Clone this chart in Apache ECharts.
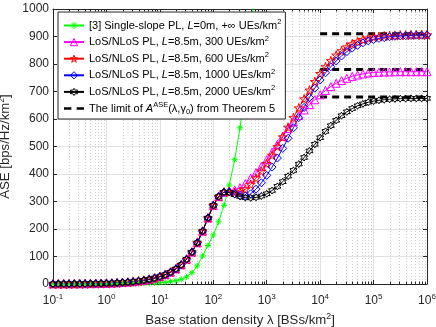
<!DOCTYPE html>
<html>
<head>
<meta charset="utf-8">
<script src="https://cdn.jsdelivr.net/npm/echarts@6.0.0/dist/echarts.min.js"></script>
<style>
html, body { margin: 0; padding: 0; background: #fff; }
#chart { width: 436px; height: 327px; }
</style>
</head>
<body>
<div id="chart"></div>
<script>
// BS density sampling grid, 10 points per decade from 1e-1 to 1e6
const lambdaExp = [];
for (let k = -10; k <= 60; k++) lambdaExp.push(k / 10);
const lambda = lambdaExp.map(e => Math.pow(10, e));

// ASE values [bps/Hz/km^2]
const aseSingleSlope = [
  0.02, 0.03, 0.04, 0.05, 0.07, 0.09, 0.12, 0.16, 0.2, 0.26,
  0.33, 0.43, 0.56, 0.73, 0.95, 1.25, 1.65, 2.2, 2.9, 3.8,
  5, 6.6, 8.8, 12, 17, 26, 41, 66, 102, 140,
  178, 226, 286, 360, 452, 568, 715, 900, 1130
];
// low density part is shared by all LoS/NLoS curves
const aseLow = [
  0.3, 0.35, 0.45, 0.55, 0.7, 0.85, 1.1, 1.35, 1.7, 2.1,
  2.7, 3.4, 4.3, 5.4, 6.8, 8.5, 10.7, 13.5, 17, 21.5,
  27, 34, 43, 55, 70, 90, 116, 150, 192, 240,
  286, 318, 334
];
const ase300 = aseLow.concat([
  338, 342, 350, 365, 385, 405, 428, 452, 480, 508,
  537, 565, 590, 613, 633, 652, 670, 688, 704, 718,
  730, 740, 748, 755, 760, 764, 767, 769, 770, 771,
  771, 772, 772, 772, 772, 772, 772, 772
]);
const ase600 = aseLow.concat([
  336, 333, 335, 345, 362, 385, 410, 438, 468, 500,
  535, 570, 605, 640, 673, 705, 736, 765, 790, 812,
  832, 848, 862, 873, 882, 889, 894, 898, 900, 902,
  903, 904, 905, 905, 906, 906, 906, 906
]);
const ase1000 = aseLow.concat([
  335, 328, 322, 320, 328, 345, 368, 395, 425, 458,
  493, 530, 568, 605, 642, 678, 712, 742, 768, 790,
  811, 829, 845, 858, 868, 877, 884, 889, 893, 896,
  899, 901, 902, 903, 904, 905, 905, 906
]);
const ase2000 = aseLow.concat([
  333, 325, 318, 314, 313, 315, 320, 328, 340, 355,
  372, 392, 413, 436, 460, 484, 508, 532, 555, 576,
  595, 612, 626, 638, 648, 655, 661, 665, 668, 670,
  672, 673, 674, 674, 675, 675, 675, 675
]);
// Theorem 5 limits
const limitX = [1e4, 1e6];
const limitY = [910, 780, 680];

// minor log ticks 2..9 x 10^k
const minorX = [];
for (let e = -1; e < 6; e++) {
  for (let m = 2; m <= 9; m++) minorX.push(m * Math.pow(10, e));
}

const FONT = 'Liberation Sans, Arial, sans-serif';
const AX = '#262626';

const pts = ys => ys.map((y, i) => [lambda[i], y]);

const legendText = {
  ss: '{n|[3] Single-slope PL, }{i|L}{n|=0m, +∞ UEs/km}{sup|2}',
  p300: '{n|LoS/NLoS PL, }{i|L}{n|=8.5m, 300 UEs/km}{sup|2}',
  p600: '{n|LoS/NLoS PL, }{i|L}{n|=8.5m, 600 UEs/km}{sup|2}',
  p1000: '{n|LoS/NLoS PL, }{i|L}{n|=8.5m, 1000 UEs/km}{sup|2}',
  p2000: '{n|LoS/NLoS PL, }{i|L}{n|=8.5m, 2000 UEs/km}{sup|2}',
  lim: '{n|The limit of }{i|A}{sup|ASE}{n|(λ,γ}{sub|0}{n|) from Theorem 5}'
};

const STAR = 'path://M50,0 L61.17,34.63 L97.55,34.55 L68.07,55.87 L79.39,90.45 L50,69 L20.61,90.45 L31.93,55.87 L2.45,34.55 L38.83,34.63 Z';
const HEXA = 'path://M50,0 L64.43,25 L93.3,25 L78.87,50 L93.3,75 L64.43,75 L50,100 L35.57,75 L6.7,75 L21.13,50 L6.7,25 L35.57,25 Z';
const ASTER = 'path://M50,0L50,100M0,50L100,50M15,15L85,85M15,85L85,15';
const DASHES = 'path://M0,0 L7,0 L7,2.4 L0,2.4 Z M12,0 L19,0 L19,2.4 L12,2.4 Z';

function curve(name, data, color, symbol, size) {
  return {
    name: name,
    type: 'line',
    data: pts(data),
    symbol: symbol,
    symbolSize: size,
    lineStyle: { color: color, width: 1 },
    itemStyle: { color: 'rgba(0,0,0,0)', borderColor: color, borderWidth: 1 },
    emphasis: { disabled: true }
  };
}

function limitLine(y) {
  return {
    name: 'lim',
    type: 'line',
    data: limitX.map(x => [x, y]),
    symbol: 'none',
    lineStyle: { color: '#000', width: 3, type: [7, 5] },
    itemStyle: { color: '#000' },
    emphasis: { disabled: true }
  };
}

const tickRich = {
  b: { fontSize: 12, fontFamily: FONT, color: AX, lineHeight: 16, verticalAlign: 'middle' },
  sup: { fontSize: 8, fontFamily: FONT, color: AX, lineHeight: 4, verticalAlign: 'top' }
};
const nameRich = {
  n: { fontSize: 13.2, fontFamily: FONT, color: AX, lineHeight: 16, verticalAlign: 'middle' },
  sup: { fontSize: 8.8, fontFamily: FONT, color: AX, lineHeight: 6, verticalAlign: 'top' }
};

const chart = echarts.init(document.getElementById('chart'), null, { renderer: 'canvas' });
chart.setOption({
  animation: false,
  backgroundColor: '#fff',
  grid: { left: 53, right: 9, top: 9, bottom: 43, containLabel: false, outerBoundsMode: 'none' },
  legend: {
    data: [
      { name: 'ss' },
      { name: 'p300' },
      { name: 'p600' },
      { name: 'p1000' },
      { name: 'p2000' },
      { name: 'lim', icon: DASHES, itemStyle: { color: '#000', borderWidth: 0 } }
    ],
    orient: 'vertical',
    left: 58,
    top: 12,
    padding: [6, 4, 3, 5],
    itemGap: 3.6,
    itemWidth: 20,
    itemHeight: 9,
    backgroundColor: '#fff',
    borderColor: AX,
    borderWidth: 1,
    borderRadius: 0,
    selectedMode: false,
    itemStyle: { color: 'rgba(0,0,0,0)', borderWidth: 1 },
    formatter: name => legendText[name],
    textStyle: {
      fontFamily: FONT,
      fontSize: 11,
      color: '#000',
      rich: {
        n: { fontSize: 11, fontFamily: FONT, color: '#000', lineHeight: 15, verticalAlign: 'middle' },
        i: { fontSize: 11, fontFamily: FONT, color: '#000', fontStyle: 'italic', lineHeight: 15, verticalAlign: 'middle' },
        sup: { fontSize: 7.5, fontFamily: FONT, color: '#000', lineHeight: 5, verticalAlign: 'top' },
        sub: { fontSize: 7.5, fontFamily: FONT, color: '#000', lineHeight: 5, verticalAlign: 'bottom' }
      }
    }
  },
  xAxis: [
    {
      type: 'log',
      logBase: 10,
      min: 0.1,
      max: 1e6,
      position: 'bottom',
      name: '{n|Base station density λ [BSs/km}{sup|2}{n|]}',
      nameLocation: 'middle',
      nameGap: 25,
      nameTextStyle: { rich: nameRich },
      axisLine: { onZero: false, lineStyle: { color: AX, width: 1 } },
      axisTick: { inside: true, length: 4, lineStyle: { color: AX } },
      axisLabel: {
        margin: 9,
        formatter: v => '{b|10}{sup|' + Math.round(Math.log10(v)) + '}',
        rich: tickRich
      },
      splitLine: { show: true, lineStyle: { color: '#e2e2e2', width: 1 } }
    },
    {
      type: 'log',
      logBase: 10,
      min: 0.1,
      max: 1e6,
      position: 'top',
      axisLine: { onZero: false, lineStyle: { color: AX, width: 1 } },
      axisTick: { inside: true, length: 4, lineStyle: { color: AX } },
      axisLabel: { show: false },
      splitLine: { show: false }
    }
  ],
  yAxis: [
    {
      type: 'value',
      min: 0,
      max: 1000,
      interval: 100,
      name: '{n|ASE [bps/Hz/km}{sup|2}{n|]}',
      nameLocation: 'middle',
      nameGap: 33,
      nameTextStyle: { rich: nameRich },
      axisLine: { show: true, lineStyle: { color: AX, width: 1 } },
      axisTick: { show: true, inside: true, length: 4, lineStyle: { color: AX } },
      axisLabel: { margin: 4, fontSize: 12, fontFamily: FONT, color: AX, formatter: v => String(v) },
      splitLine: { show: true, lineStyle: { color: '#e2e2e2', width: 1 } }
    },
    {
      type: 'value',
      min: 0,
      max: 1000,
      interval: 100,
      position: 'right',
      axisLine: { show: true, lineStyle: { color: AX, width: 1 } },
      axisTick: { show: true, inside: true, length: 4, lineStyle: { color: AX } },
      axisLabel: { show: false },
      splitLine: { show: false }
    }
  ],
  series: [
    {
      type: 'custom',
      z: 1,
      silent: true,
      data: minorX.map(x => [x, 0]),
      encode: { x: 0, y: 1 },
      renderItem: function (params, api) {
        const b = api.coord([api.value(0), 0]);
        const t = api.coord([api.value(0), 1000]);
        const x = Math.round(b[0]) + 0.5;
        return {
          type: 'group',
          children: [
            { type: 'line', shape: { x1: x, y1: t[1], x2: x, y2: b[1] }, style: { stroke: '#cfcfcf', lineWidth: 1, lineDash: [1, 2] } },
            { type: 'line', shape: { x1: x, y1: b[1], x2: x, y2: b[1] - 2.5 }, style: { stroke: AX, lineWidth: 1 } },
            { type: 'line', shape: { x1: x, y1: t[1], x2: x, y2: t[1] + 2.5 }, style: { stroke: AX, lineWidth: 1 } }
          ]
        };
      }
    },
    curve('ss', aseSingleSlope, '#00ff00', ASTER, 6),
    curve('p300', ase300, '#ff00ff', 'triangle', 8),
    curve('p600', ase600, '#ff0000', STAR, 9),
    curve('p1000', ase1000, '#0000ff', 'diamond', 8),
    curve('p2000', ase2000, '#000000', HEXA, 7),
    limitLine(limitY[0]),
    limitLine(limitY[1]),
    limitLine(limitY[2])
  ]
});
</script>
</body>
</html>
